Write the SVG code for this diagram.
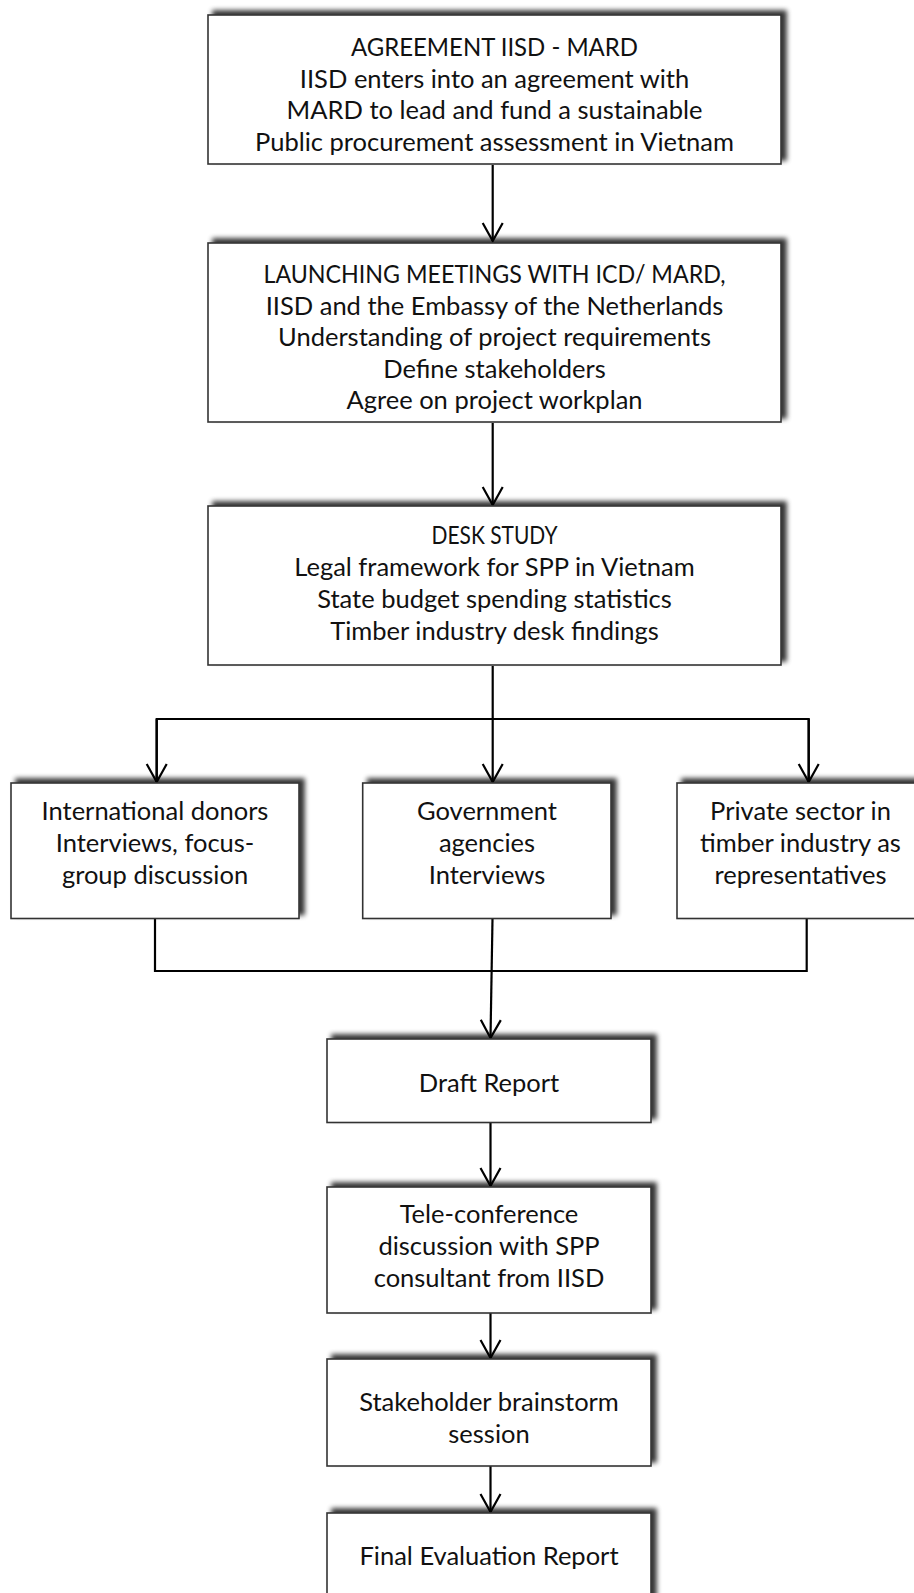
<svg xmlns="http://www.w3.org/2000/svg" width="914" height="1593" viewBox="0 0 914 1593">
<style>
.box{fill:#fff;stroke:#333;stroke-width:1.6;filter:url(#sh)}
.t{font-family:Lato,"Liberation Sans",sans-serif;font-size:25.5px;fill:#111;text-anchor:middle}
.c{fill:none;stroke:#000;stroke-width:2.2}
.a{marker-end:url(#arr)}
</style>
<defs>
<filter id="sh" x="-10%" y="-20%" width="120%" height="140%">
<feGaussianBlur in="SourceAlpha" stdDeviation="2.6"/>
<feOffset dx="5" dy="-4" result="o"/>
<feComponentTransfer><feFuncA type="linear" slope="0.8"/></feComponentTransfer>
<feMerge><feMergeNode/><feMergeNode in="SourceGraphic"/></feMerge>
</filter>
<marker id="arr" viewBox="-22 -12 26 24" markerWidth="26" markerHeight="24" refX="0" refY="0" orient="auto" markerUnits="userSpaceOnUse">
<path d="M-18,-10 L0,0 L-18,10" fill="none" stroke="#000" stroke-width="2.2"/>
</marker>
</defs>
<rect width="914" height="1593" fill="#fff"/>
<g id="connectors">
<path class="c a" d="M492.7,165 V241"/>
<path class="c a" d="M492.7,423 V505"/>
<path class="c" d="M492.7,666 V719"/>
<path class="c" d="M156.7,782 V719 H808.7 V782"/>
<path class="c a" d="M156.7,719 V782"/>
<path class="c a" d="M492.7,719 V782"/>
<path class="c a" d="M808.7,719 V782"/>
<path class="c" d="M155,919 V971 H806.7 V919"/>
<path class="c a" d="M492.5,919 L490.5,1038"/>
<path class="c a" d="M490.5,1123 V1186"/>
<path class="c a" d="M490.5,1313 V1358"/>
<path class="c a" d="M490.5,1466 V1512"/>
</g>
<g id="n1"><rect class="box" x="208" y="15" width="573" height="149"/>
<text class="t" x="494.5" y="56" textLength="287" lengthAdjust="spacingAndGlyphs">AGREEMENT IISD - MARD</text>
<text class="t" x="494.5" y="87.5">IISD enters into an agreement with</text>
<text class="t" x="494.5" y="119">MARD to lead and fund a sustainable</text>
<text class="t" x="494.5" y="150.5">Public procurement assessment in Vietnam</text></g>
<g id="n2"><rect class="box" x="208" y="243" width="573" height="179"/>
<text class="t" x="494.5" y="283" textLength="462" lengthAdjust="spacingAndGlyphs">LAUNCHING MEETINGS WITH ICD/ MARD,</text>
<text class="t" x="494.5" y="314.5">IISD and the Embassy of the Netherlands</text>
<text class="t" x="494.5" y="346">Understanding of project requirements</text>
<text class="t" x="494.5" y="377.5">Define stakeholders</text>
<text class="t" x="494.5" y="409">Agree on project workplan</text></g>
<g id="n3"><rect class="box" x="208" y="506" width="573" height="159"/>
<text class="t" x="494.5" y="544" textLength="126" lengthAdjust="spacingAndGlyphs">DESK STUDY</text>
<text class="t" x="494.5" y="576">Legal framework for SPP in Vietnam</text>
<text class="t" x="494.5" y="608">State budget spending statistics</text>
<text class="t" x="494.5" y="640">Timber industry desk findings</text></g>
<g id="n4"><rect class="box" x="11" y="783" width="288" height="135.5"/>
<text class="t" x="155" y="819.5">International donors</text>
<text class="t" x="155" y="851.5">Interviews, focus-</text>
<text class="t" x="155" y="883.5">group discussion</text></g>
<g id="n5"><rect class="box" x="362.7" y="783" width="248.3" height="135.5"/>
<text class="t" x="487" y="819.5">Government</text>
<text class="t" x="487" y="851.5">agencies</text>
<text class="t" x="487" y="883.5">Interviews</text></g>
<g id="n6"><rect class="box" x="677" y="783" width="248" height="135.5"/>
<text class="t" x="800.5" y="819.5">Private sector in</text>
<text class="t" x="800.5" y="851.5">timber industry as</text>
<text class="t" x="800.5" y="883.5">representatives</text></g>
<g id="n7"><rect class="box" x="327" y="1039" width="324" height="83.5"/>
<text class="t" x="489" y="1091.5">Draft Report</text></g>
<g id="n8"><rect class="box" x="327" y="1187" width="324" height="126"/>
<text class="t" x="489" y="1223">Tele-conference</text>
<text class="t" x="489" y="1255">discussion with SPP</text>
<text class="t" x="489" y="1287">consultant from IISD</text></g>
<g id="n9"><rect class="box" x="327" y="1359" width="324" height="107"/>
<text class="t" x="489" y="1411">Stakeholder brainstorm</text>
<text class="t" x="489" y="1443">session</text></g>
<g id="n10"><rect class="box" x="327" y="1513" width="324" height="100"/>
<text class="t" x="489" y="1565">Final Evaluation Report</text></g>
</svg>
